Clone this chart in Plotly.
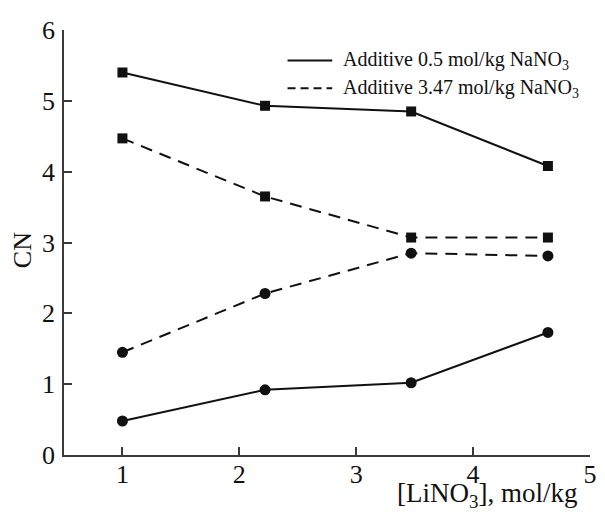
import plotly.graph_objects as go

x_vals = [1.0, 2.22, 3.47, 4.64]
solid_squares = [5.4, 4.93, 4.85, 4.08]
dashed_squares = [4.47, 3.65, 3.07, 3.07]
dashed_circles = [1.45, 2.28, 2.85, 2.81]
solid_circles = [0.48, 0.92, 1.02, 1.73]
legend_labels = ["Additive 0.5 mol/kg NaNO<sub>3</sub>", "Additive 3.47 mol/kg NaNO<sub>3</sub>"]
x_ticks = [1, 2, 3, 4, 5]
y_ticks = [0, 1, 2, 3, 4, 5, 6]

FONT = "Liberation Serif, Times New Roman, serif"
C = "#111111"
AX = "#3a3a3a"
DASH = "12px,8px"

fig = go.Figure()
series = [
    (solid_squares, "solid", "square"),
    (dashed_squares, DASH, "square"),
    (dashed_circles, DASH, "circle"),
    (solid_circles, "solid", "circle"),
]
for ys, dash, sym in series:
    fig.add_trace(go.Scatter(
        x=x_vals, y=ys, mode="lines+markers",
        line=dict(color=C, width=2, dash=dash),
        marker=dict(symbol=sym, size=11 if sym == "circle" else 10, color=C),
        showlegend=False,
    ))

# manual legend (line samples + labels)
legend_y = [0.928, 0.863]
shapes = []
annotations = []
for label, dash, ly in zip(legend_labels, ["solid", "dash"], legend_y):
    shapes.append(dict(type="line", xref="paper", yref="paper",
                       x0=0.425, x1=0.510, y0=ly, y1=ly,
                       line=dict(color=C, width=2,
                                 dash="solid" if dash == "solid" else "8px,5px")))
    annotations.append(dict(text=label, xref="paper", yref="paper",
                            x=0.527, y=ly, xanchor="left", yanchor="middle",
                            showarrow=False,
                            font=dict(family=FONT, size=20, color=C)))

annotations += [
    dict(text="[LiNO<sub>3</sub>], mol/kg", xref="paper", yref="paper",
         x=0.805, y=-0.093, xanchor="center", yanchor="middle", showarrow=False,
         font=dict(family=FONT, size=27, color=C)),
    dict(text="CN", xref="paper", yref="paper", x=-0.079, y=0.483,
         xanchor="center", yanchor="middle", textangle=-90, showarrow=False,
         font=dict(family=FONT, size=26, color=C)),
]

fig.update_layout(
    width=597, height=504,
    margin=dict(l=56, r=8, t=16, b=57),
    paper_bgcolor="white", plot_bgcolor="white",
    font=dict(family=FONT, color=C, size=26),
    showlegend=False,
    shapes=shapes,
    annotations=annotations,
    xaxis=dict(range=[0.5, 5], tickvals=x_ticks, ticks="inside", ticklen=8,
               tickcolor=AX, tickwidth=1.5, showline=True, linecolor=AX, linewidth=1.5,
               showgrid=False, zeroline=False, tickfont=dict(size=26, family=FONT, color=C),
               ticklabelstandoff=-5),
    yaxis=dict(range=[0, 6], tickvals=y_ticks, ticks="inside", ticklen=8,
               tickcolor=AX, tickwidth=1.5, showline=True, linecolor=AX, linewidth=1.5,
               showgrid=False, zeroline=False, tickfont=dict(size=26, family=FONT, color=C),
               ticklabelstandoff=2),
)
fig.write_html("out.html")
